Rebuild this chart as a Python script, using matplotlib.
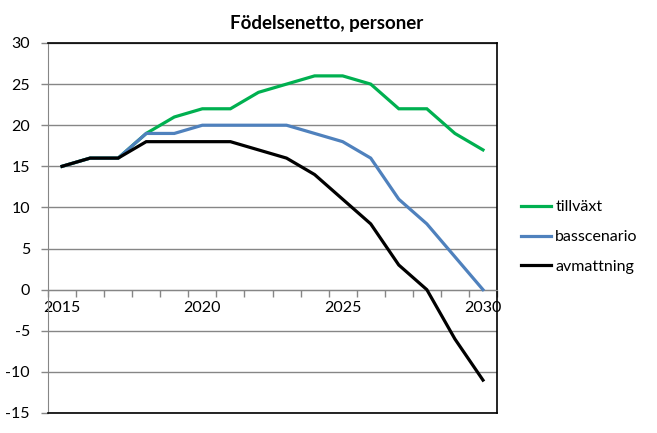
import matplotlib
matplotlib.use("Agg")
import matplotlib.pyplot as plt
from matplotlib.lines import Line2D

plt.rcParams['font.family'] = ['Lato', 'DejaVu Sans']

years = list(range(2015, 2031))
tillvaxt = [15, 16, 16, 19, 21, 22, 22, 24, 25, 26, 26, 25, 22, 22, 19, 17]
basscenario = [15, 16, 16, 19, 19, 20, 20, 20, 20, 19, 18, 16, 11, 8, 4, 0]
avmattning = [15, 16, 16, 18, 18, 18, 18, 17, 16, 14, 11, 8, 3, 0, -6, -11]
series_names = ["tillväxt", "basscenario", "avmattning"]
colors = ["#00B050", "#4F81BD", "#000000"]
yticks = list(range(-15, 31, 5))
xlabel_years = [2015, 2020, 2025, 2030]
title = "Födelsenetto, personer"

fig = plt.figure(figsize=(6.57, 4.33), dpi=100)
ax = fig.add_axes([48/657, 1-413/433, (497-48)/657, (413-43)/433])

x = list(range(len(years)))
for vals, c, name in zip([tillvaxt, basscenario, avmattning], colors, series_names):
    ax.plot(x, vals, color=c, lw=2.3, label=name, solid_joinstyle='miter', zorder=3)

ax.set_xlim(-0.5, len(years) - 0.5)
ax.set_ylim(-15, 30)
ax.set_yticks(yticks)
ax.set_yticklabels([str(v) for v in yticks], fontsize=11.5)
ax.yaxis.grid(True, color="#868686", lw=1)
ax.set_axisbelow(True)

grey = "#868686"
for s in ['top', 'right']:
    ax.spines[s].set_color('black')
    ax.spines[s].set_linewidth(1.2)
ax.spines['left'].set_color(grey)
ax.spines['bottom'].set_position(('data', 0))
ax.spines['bottom'].set_color(grey)
ax.tick_params(axis='y', direction='out', length=5, color=grey, pad=8, width=1)

# bottom frame line
ax.plot([0, 1], [0, 0], transform=ax.transAxes, color='black', lw=1.2, clip_on=False, zorder=4)

# category boundary ticks on the zero line
ax.set_xticks([i - 0.5 for i in range(len(years) + 1)])
ax.set_xticklabels([])
ax.tick_params(axis='x', which='major', direction='out', length=5, color=grey, width=1)
ax.set_xticks([years.index(y) for y in xlabel_years], minor=True)
ax.set_xticklabels([str(y) for y in xlabel_years], minor=True, fontsize=11.5)
ax.tick_params(axis='x', which='minor', length=0, pad=8)

fig.text(327/657, 1-23/433, title, ha='center', va='center', fontsize=13.5, fontweight='bold')

handles = [Line2D([], [], color=c, lw=2.3) for c in colors]
fig.legend(handles, series_names, loc='center left', bbox_to_anchor=(521/657, 1-237/433),
           frameon=False, fontsize=11.5, handlelength=1.9, handletextpad=0.25, labelspacing=0.98,
           borderpad=0, borderaxespad=0)

fig.savefig("out.png", dpi=100)
